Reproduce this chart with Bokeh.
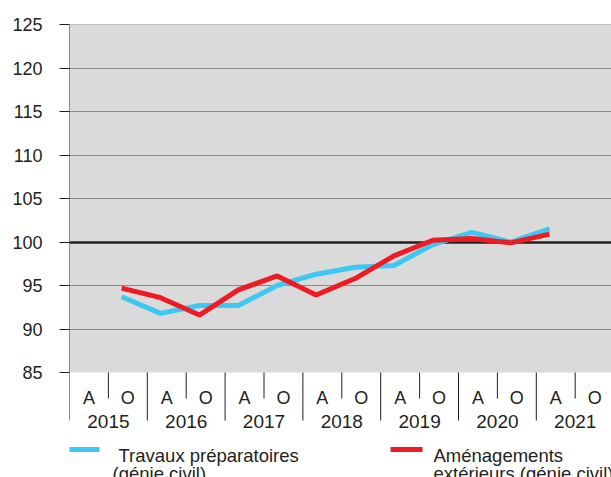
from bokeh.plotting import figure
from bokeh.models import FixedTicker, Range1d
from bokeh.core.properties import value
from bokeh.embed import file_html
from bokeh.resources import INLINE

# ---------------- data ----------------
years = ["2015", "2016", "2017", "2018", "2019", "2020", "2021"]
halves = ["A", "O"]
y_ticks = [85, 90, 95, 100, 105, 110, 115, 120, 125]
grid_vals = [90, 95, 105, 110, 115, 120, 125]
reference_level = 100

periods = [("2015", "O"), ("2016", "A"), ("2016", "O"), ("2017", "A"), ("2017", "O"),
           ("2018", "A"), ("2018", "O"), ("2019", "A"), ("2019", "O"), ("2020", "A"),
           ("2020", "O"), ("2021", "A")]
travaux = [93.7, 91.8, 92.7, 92.7, 95.0, 96.3, 97.1, 97.3, 99.7, 101.1, 100.0, 101.5]
amenagements = [94.7, 93.6, 91.6, 94.5, 96.1, 93.9, 95.8, 98.4, 100.2, 100.4, 99.9, 100.9]

label_travaux = ["Travaux préparatoires", "(génie civil)"]
label_amenag = ["Aménagements", "extérieurs (génie civil)"]

# ---------------- layout ----------------
FIG_W, FIG_H = 611, 477
B_LEFT, B_TOP = 69, 24
FRAME_W = FIG_W - B_LEFT
FRAME_H = FIG_H - B_TOP
SLOT_PX = 38.9
PX_PER_UNIT = 8.7
Y_TOP = 125
PAGE = 0

def xs(page_x):
    return (page_x - PAGE - B_LEFT) / SLOT_PX

def ys(page_y):
    return Y_TOP - (page_y - PAGE - B_TOP) / PX_PER_UNIT

TEXT = "#231F20"
BLUE = "#3CC8F2"
RED = "#ED1C24"
FONT = value("Liberation Sans")

slots = [(y, h) for y in years for h in halves]
n_slots = len(slots)
x_off = 0.34
x_data = [slots.index(p) + x_off for p in periods]

p = figure(width=FIG_W, height=FIG_H, output_backend="svg", toolbar_location=None,
           x_axis_location=None, min_border_left=B_LEFT, min_border_right=0,
           min_border_top=B_TOP, min_border_bottom=0,
           x_range=Range1d(0, FRAME_W / SLOT_PX),
           y_range=Range1d(Y_TOP - FRAME_H / PX_PER_UNIT, Y_TOP))
p.outline_line_color = None
p.xgrid.visible = False
p.ygrid.visible = False
p.background_fill_color = "white"
p.border_fill_color = "white"

# plot background band and grid
p.hstrip(y0=[y_ticks[0]], y1=[y_ticks[-1]], fill_color="#DADADA", line_color=None)
p.hspan(y=grid_vals, line_color="#8A8A8A", line_width=1)
p.hspan(y=[reference_level], line_color=TEXT, line_width=2.5)

# y axis
ax = p.yaxis[0]
ax.ticker = FixedTicker(ticks=y_ticks)
ax.axis_line_color = None
ax.major_tick_out = 10
ax.major_tick_in = 0
ax.minor_tick_line_color = None
ax.major_tick_line_color = TEXT
ax.major_label_text_font = "Liberation Sans"
ax.major_label_text_font_size = "18px"
ax.major_label_text_color = TEXT
ax.major_label_standoff = 17

# category axis drawn manually
y_ao_bottom = ys(398)
y_year_bottom = ys(420)
p.segment(x0=[0], y0=[Y_TOP], x1=[0], y1=[y_year_bottom], line_color=TEXT, line_width=1)
ao_x = [i for i in range(1, n_slots, 2)]
p.segment(x0=ao_x, y0=[y_ticks[0]] * len(ao_x), x1=ao_x, y1=[y_ao_bottom] * len(ao_x),
          line_color=TEXT, line_width=1)
yr_x = [i for i in range(2, n_slots + 1, 2)]
p.segment(x0=yr_x, y0=[y_ticks[0]] * len(yr_x), x1=yr_x, y1=[y_year_bottom] * len(yr_x),
          line_color=TEXT, line_width=1)

p.text(x=[i + 0.5 for i in range(n_slots)], y=[ys(397)] * n_slots,
       text=[h for (_, h) in slots], text_align="center", text_baseline="alphabetic",
       text_font=FONT, text_font_size=value("18px"), text_color=TEXT)
p.text(x=[2 * k + 1 for k in range(len(years))], y=[ys(421)] * len(years),
       text=years, text_align="center", text_baseline="alphabetic",
       text_font=FONT, text_font_size=value("19px"), text_color=TEXT)

# data lines
p.line(x=x_data, y=travaux, line_color=BLUE, line_width=5)
p.line(x=x_data, y=amenagements, line_color=RED, line_width=5)

# legend
p.segment(x0=[xs(67)], y0=[ys(449)], x1=[xs(99)], y1=[ys(449)], line_color=BLUE, line_width=5)
p.segment(x0=[xs(390)], y0=[ys(449)], x1=[xs(422)], y1=[ys(449)], line_color=RED, line_width=5)
p.text(x=[xs(118), xs(112)], y=[ys(455), ys(473)], text=label_travaux,
       text_align="left", text_baseline="alphabetic",
       text_font=FONT, text_font_size=value("18.5px"), text_color=TEXT)
p.text(x=[xs(433), xs(433)], y=[ys(455), ys(473)], text=label_amenag,
       text_align="left", text_baseline="alphabetic",
       text_font=FONT, text_font_size=value("18.5px"), text_color=TEXT)

open("out.html", "w").write(file_html(p, INLINE))
